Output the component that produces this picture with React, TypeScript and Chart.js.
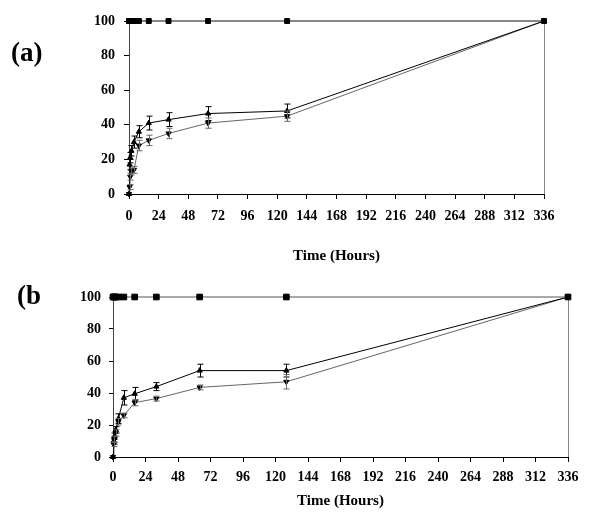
import React, { useEffect, useRef } from "react";
import { Chart, registerables } from "chart.js";
Chart.register(...registerables);

// Sampling times (hours)
const TIMES = [0, 0.5, 1, 2, 4, 8, 16, 32, 64, 128, 336];
const X_TICKS = [0, 24, 48, 72, 96, 120, 144, 168, 192, 216, 240, 264, 288, 312, 336];
const Y_TICKS = [0, 20, 40, 60, 80, 100];

// Panel (a)
const A_CONTROL = [100, 100, 100, 100, 100, 100, 100, 100, 100, 100, 100];
const A_UPPER = [0, 17, 21, 25, 30, 36, 41, 43, 46.5, 48, 100];
const A_UPPER_ERR = [0, 3, 3, 3, 3.5, 3.5, 4, 4, 4, 4, 0];
const A_LOWER = [0, 4, 10, 13, 14, 28, 31, 35, 41, 45, 100];
const A_LOWER_ERR = [0, 1.5, 2, 2, 2, 3, 3, 3, 3, 3, 0];

// Panel (b)
const B_CONTROL = [100, 100, 100, 100, 100, 100, 100, 100, 100, 100, 100];
const B_UPPER = [0, 10, 13, 17, 24, 37, 39.5, 44, 54, 54, 100];
const B_UPPER_ERR = [0, 2, 2, 2, 3, 4.5, 4, 2.5, 4, 4, 0];
const B_LOWER = [0, 8, 11, 15, 22, 26, 34, 36.5, 43.5, 47, 100];
const B_LOWER_ERR = [0, 1.5, 2, 2, 2, 1.5, 2, 1.5, 1.5, 4.5, 0];

const FONT = "'Liberation Serif', 'Times New Roman', serif";

const toPts = (vals: number[]) => TIMES.map((t, i) => ({ x: t, y: vals[i] }));

const errorBarPlugin = {
  id: "errorBars",
  afterDatasetsDraw(chart: any) {
    const ctx = chart.ctx;
    const ys = chart.scales.y;
    chart.data.datasets.forEach((ds: any, i: number) => {
      const errs: number[] | undefined = ds.errors;
      if (!errs) return;
      const meta = chart.getDatasetMeta(i);
      ctx.save();
      ctx.strokeStyle = ds.borderColor;
      ctx.lineWidth = 1;
      meta.data.forEach((pt: any, j: number) => {
        const e = errs[j];
        if (!e) return;
        const v = ds.data[j].y;
        const x = Math.round(pt.x) + 0.5;
        const yt = ys.getPixelForValue(v + e);
        const yb = ys.getPixelForValue(v - e);
        ctx.beginPath();
        ctx.moveTo(x, yt);
        ctx.lineTo(x, yb);
        ctx.moveTo(x - 3, yt);
        ctx.lineTo(x + 3, yt);
        ctx.moveTo(x - 3, yb);
        ctx.lineTo(x + 3, yb);
        ctx.stroke();
      });
      ctx.restore();
    });
  },
};

const rightBorderPlugin = {
  id: "rightBorder",
  beforeDatasetsDraw(chart: any) {
    const { ctx, chartArea } = chart;
    ctx.save();
    ctx.strokeStyle = "#888";
    ctx.lineWidth = 1;
    const x = Math.round(chartArea.right) + 0.5;
    ctx.beginPath();
    ctx.moveTo(x, chartArea.top);
    ctx.lineTo(x, chartArea.bottom);
    ctx.stroke();
    ctx.restore();
  },
};

type PanelCfg = {
  control: number[];
  upper: number[];
  upperErr: number[];
  lower: number[];
  lowerErr: number[];
  controlColor: string;
  upperColor: string;
  lowerColor: string;
  padRight: number;
  padTop: number;
  yWidth: number;
  xHeight: number;
  xTickPad: number;
  yTickLen: number;
  yTickPad: number;
  titlePadBottom: number;
  squareR: number;
};

function makeChart(canvas: HTMLCanvasElement, c: PanelCfg) {
  return new Chart(canvas, {
    type: "line",
    data: {
      datasets: [
        {
          label: "control",
          data: toPts(c.control),
          borderColor: c.controlColor,
          backgroundColor: "#000",
          borderWidth: 1,
          pointStyle: "rect",
          pointRadius: c.squareR,
          pointBorderColor: "#000",
          pointBackgroundColor: "#000",
          clip: false,
        } as any,
        {
          label: "upper",
          data: toPts(c.upper),
          errors: c.upperErr,
          borderColor: c.upperColor,
          backgroundColor: "#000",
          borderWidth: 1,
          pointStyle: "triangle",
          pointRadius: 3,
          pointBorderColor: "#000",
          pointBackgroundColor: "#000",
          clip: false,
        } as any,
        {
          label: "lower",
          data: toPts(c.lower),
          errors: c.lowerErr,
          borderColor: c.lowerColor,
          backgroundColor: "#000",
          borderWidth: 1,
          pointStyle: "triangle",
          pointRotation: 180,
          pointRadius: 3,
          pointBorderColor: "#000",
          pointBackgroundColor: "#000",
          clip: false,
        } as any,
      ],
    },
    options: {
      responsive: false,
      animation: false,
      devicePixelRatio: 1,
      layout: { padding: { left: 0, right: c.padRight, top: c.padTop, bottom: 0 } },
      plugins: { legend: { display: false }, tooltip: { enabled: false } },
      elements: { line: { tension: 0 } },
      scales: {
        x: {
          type: "linear",
          min: 0,
          max: 336,
          afterFit: (s: any) => {
            s.height = c.xHeight;
          },
          afterBuildTicks: (s: any) => {
            s.ticks = X_TICKS.map((v) => ({ value: v }));
          },
          grid: { drawOnChartArea: false, drawTicks: true, tickLength: 5, color: "#000" },
          border: { display: true, color: "#000", width: 1 },
          ticks: {
            padding: c.xTickPad,
            color: "#000",
            maxRotation: 0,
            autoSkip: false,
            font: { family: FONT, size: 14, weight: "bold", lineHeight: 1.2 },
          },
          title: {
            display: true,
            text: "Time (Hours)",
            color: "#000",
            padding: { top: 0, bottom: c.titlePadBottom },
            font: { family: FONT, size: 15, weight: "bold", lineHeight: 1.2 },
          },
        },
        y: {
          type: "linear",
          min: 0,
          max: 100,
          afterFit: (s: any) => {
            s.width = c.yWidth;
          },
          afterBuildTicks: (s: any) => {
            s.ticks = Y_TICKS.map((v) => ({ value: v }));
          },
          grid: { drawOnChartArea: false, drawTicks: true, tickLength: c.yTickLen, color: "#000" },
          border: { display: true, color: "#444", width: 1 },
          ticks: {
            padding: c.yTickPad,
            color: "#000",
            font: { family: FONT, size: 14, weight: "bold", lineHeight: 1.2 },
          },
        },
      },
    } as any,
    plugins: [rightBorderPlugin, errorBarPlugin],
  });
}

export default function App() {
  const refA = useRef<HTMLCanvasElement>(null);
  const refB = useRef<HTMLCanvasElement>(null);

  useEffect(() => {
    const chA = makeChart(refA.current!, {
      control: A_CONTROL,
      upper: A_UPPER,
      upperErr: A_UPPER_ERR,
      lower: A_LOWER,
      lowerErr: A_LOWER_ERR,
      controlColor: "#111",
      upperColor: "#000",
      lowerColor: "#666",
      padRight: 56,
      padTop: 21,
      yWidth: 129,
      xHeight: 71,
      xTickPad: 9,
      yTickLen: 5,
      yTickPad: 9,
      titlePadBottom: 0,
      squareR: 3.5,
    });
    const chB = makeChart(refB.current!, {
      control: B_CONTROL,
      upper: B_UPPER,
      upperErr: B_UPPER_ERR,
      lower: B_LOWER,
      lowerErr: B_LOWER_ERR,
      controlColor: "#555",
      upperColor: "#000",
      lowerColor: "#666",
      padRight: 32,
      padTop: 32,
      yWidth: 113,
      xHeight: 58,
      xTickPad: 7,
      yTickLen: 4,
      yTickPad: 8,
      titlePadBottom: 5,
      squareR: 4,
    });
    return () => {
      chA.destroy();
      chB.destroy();
    };
  }, []);

  const labelStyle: React.CSSProperties = {
    position: "absolute",
    fontFamily: FONT,
    fontWeight: "bold",
    fontSize: 27,
    lineHeight: "30px",
    color: "#000",
  };

  return (
    <div style={{ position: "absolute", left: 0, top: 0, width: 600, height: 515, background: "#fff" }}>
      <canvas ref={refA} width={600} height={265} style={{ position: "absolute", left: 0, top: 0 }} />
      <canvas ref={refB} width={600} height={250} style={{ position: "absolute", left: 0, top: 265 }} />
      <div style={{ ...labelStyle, left: 11, top: 37 }}>(a)</div>
      <div style={{ ...labelStyle, left: 17, top: 280 }}>(b</div>
    </div>
  );
}
